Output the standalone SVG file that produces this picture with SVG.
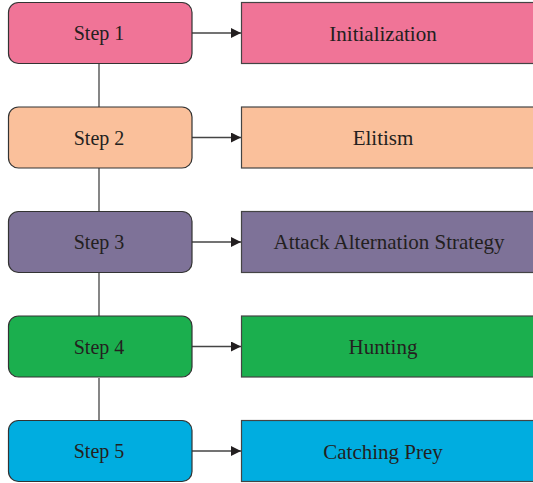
<svg xmlns="http://www.w3.org/2000/svg" width="533" height="483" viewBox="0 0 533 483">
<style>
.step{stroke:#333;stroke-width:1.2}
.res{stroke:#444;stroke-width:1.2}
text{font-family:"Liberation Serif","Times New Roman",serif;font-size:20px;fill:#231f20;text-anchor:middle}
.big{font-size:21px}
.conn{stroke:#444;stroke-width:1.3;fill:none}
</style>
<defs>
<marker id="ah" viewBox="0 0 10 10" refX="10" refY="5" markerWidth="10" markerHeight="10" markerUnits="userSpaceOnUse" orient="auto">
<path d="M0,0 L10,5 L0,10 z" fill="#231f20"/>
</marker>
</defs>
<g id="connectors">
<line class="conn" x1="99" y1="63" x2="99" y2="107"/>
<line class="conn" x1="99" y1="168" x2="99" y2="211"/>
<line class="conn" x1="99" y1="273" x2="99" y2="316"/>
<line class="conn" x1="99" y1="378" x2="99" y2="421"/>
<line class="conn" x1="192" y1="33" x2="241" y2="33" marker-end="url(#ah)"/>
<line class="conn" x1="192" y1="137.5" x2="241" y2="137.5" marker-end="url(#ah)"/>
<line class="conn" x1="192" y1="242" x2="241" y2="242" marker-end="url(#ah)"/>
<line class="conn" x1="192" y1="346.5" x2="241" y2="346.5" marker-end="url(#ah)"/>
<line class="conn" x1="192" y1="451" x2="241" y2="451" marker-end="url(#ah)"/>
</g>
<g id="step1"><rect class="step" x="8.5" y="2.5" width="183.5" height="61" rx="10" fill="#F07497"/><text x="99" y="40">Step 1</text></g>
<g id="init"><rect class="res" x="241.5" y="2.5" width="300" height="61" fill="#F07497"/><text class="big" x="383" y="41">Initialization</text></g>
<g id="step2"><rect class="step" x="8.5" y="107" width="183.5" height="61" rx="10" fill="#FAC09B"/><text x="99" y="144.5">Step 2</text></g>
<g id="elit"><rect class="res" x="241.5" y="107" width="300" height="61" fill="#FAC09B"/><text class="big" x="383" y="145">Elitism</text></g>
<g id="step3"><rect class="step" x="8.5" y="211.5" width="183.5" height="61" rx="10" fill="#7E7298"/><text x="99" y="249">Step 3</text></g>
<g id="attack"><rect class="res" x="241.5" y="211.5" width="300" height="61" fill="#7E7298"/><text class="big" x="389" y="249">Attack Alternation Strategy</text></g>
<g id="step4"><rect class="step" x="8.5" y="316" width="183.5" height="61" rx="10" fill="#1BAF4E"/><text x="99" y="353.5">Step 4</text></g>
<g id="hunt"><rect class="res" x="241.5" y="316" width="300" height="61" fill="#1BAF4E"/><text class="big" x="383" y="354">Hunting</text></g>
<g id="step5"><rect class="step" x="8.5" y="420.5" width="183.5" height="61" rx="10" fill="#00ADE0"/><text x="99" y="458">Step 5</text></g>
<g id="prey"><rect class="res" x="241.5" y="420.5" width="300" height="61" fill="#00ADE0"/><text class="big" x="383" y="458.5">Catching Prey</text></g>
</svg>
